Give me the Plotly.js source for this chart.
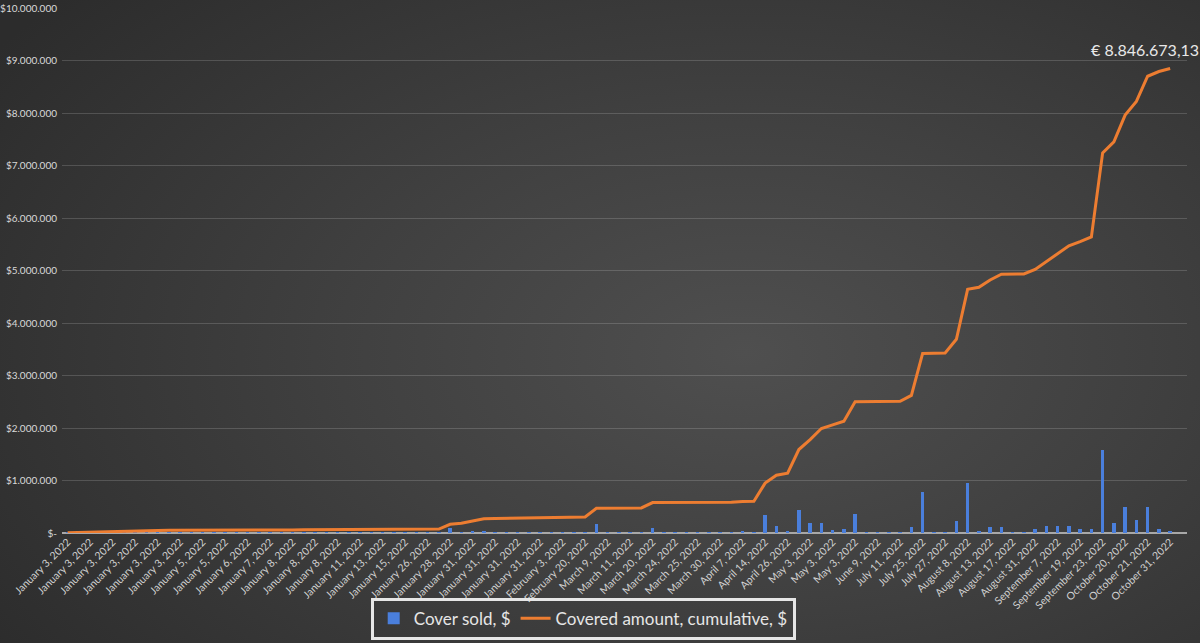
<!DOCTYPE html>
<html>
<head>
<meta charset="utf-8">
<script src="https://cdn.plot.ly/plotly-3.0.1.min.js"></script>
<style>
  html, body { margin: 0; padding: 0; width: 1200px; height: 643px; overflow: hidden; }
  body { background: radial-gradient(ellipse 75% 85% at 62% 55%, #4f4f4f 0%, #404040 45%, #2c2c2c 100%); }
  #chart { width: 1200px; height: 643px; }
</style>
</head>
<body>
<div id="chart"></div>
<script>
// Category dates (one per row of the source table)
const dates = [
  "January 3, 2022","January 3, 2022","January 3, 2022","January 3, 2022","January 3, 2022",
  "January 3, 2022","January 3, 2022","January 3, 2022","January 3, 2022","January 3, 2022",
  "January 3, 2022","January 4, 2022","January 5, 2022","January 5, 2022","January 5, 2022",
  "January 6, 2022","January 6, 2022","January 7, 2022","January 7, 2022","January 7, 2022",
  "January 8, 2022","January 8, 2022","January 8, 2022","January 8, 2022","January 8, 2022",
  "January 10, 2022","January 11, 2022","January 12, 2022","January 13, 2022","January 14, 2022",
  "January 15, 2022","January 20, 2022","January 26, 2022","January 27, 2022","January 28, 2022",
  "January 30, 2022","January 31, 2022","January 31, 2022","January 31, 2022","January 31, 2022",
  "January 31, 2022","January 31, 2022","January 31, 2022","February 1, 2022","February 3, 2022",
  "February 10, 2022","February 20, 2022","March 1, 2022","March 9, 2022","March 10, 2022",
  "March 11, 2022","March 15, 2022","March 20, 2022","March 22, 2022","March 24, 2022",
  "March 24, 2022","March 25, 2022","March 28, 2022","March 30, 2022","April 4, 2022",
  "April 7, 2022","April 11, 2022","April 14, 2022","April 20, 2022","April 26, 2022",
  "April 30, 2022","May 3, 2022","May 3, 2022","May 3, 2022","May 3, 2022",
  "May 3, 2022","May 20, 2022","June 9, 2022","June 28, 2022","July 11, 2022",
  "July 20, 2022","July 25, 2022","July 26, 2022","July 27, 2022","August 3, 2022",
  "August 8, 2022","August 10, 2022","August 13, 2022","August 15, 2022","August 17, 2022",
  "August 25, 2022","August 31, 2022","September 2, 2022","September 7, 2022","September 14, 2022",
  "September 19, 2022","September 21, 2022","September 23, 2022","October 5, 2022","October 20, 2022",
  "October 20, 2022","October 21, 2022","October 27, 2022","October 31, 2022"
];

// Cover sold, $ (per row)
const coverSold = [
  5000, 7000, 6000, 4000, 6000, 4000, 6000, 4000, 5000, 5000,
  2000, 1000, 500, 500, 500, 500, 500, 500, 500, 500,
  500, 500, 500, 3000, 2000, 1000, 1000, 1000, 1000, 1000,
  1000, 1000, 1000, 2000, 90000, 15000, 40000, 40000, 5000, 5000,
  5000, 2000, 5000, 5000, 3000, 2000, 2000, 170000, 2000, 2000,
  2000, 2000, 100000, 2000, 2000, 2000, 2000, 2000, 3000, 5000,
  20000, 3000, 340000, 140000, 30000, 440000, 190000, 190000, 60000, 80000,
  370000, 2000, 2000, 2000, 2000, 110000, 790000, 5000, 5000, 230000,
  950000, 40000, 110000, 110000, 2000, 2000, 80000, 140000, 140000, 140000,
  80000, 80000, 1590000, 200000, 490000, 240000, 490000, 80000, 40000
];

// Covered amount, cumulative, $ (per row)
const cumulative = [
  5000, 12000, 18000, 22000, 28000, 32000, 38000, 42000, 47000, 52000,
  54000, 55000, 55500, 56000, 56500, 57000, 57500, 58000, 58500, 59000,
  59500, 60000, 60500, 63500, 65500, 66500, 67500, 68500, 69500, 70500,
  71500, 72500, 73500, 75500, 166000, 185000, 230000, 270000, 275000, 280000,
  285000, 287000, 292000, 297000, 300000, 302000, 304000, 470000, 472000, 474000,
  476000, 478000, 580000, 580000, 580000, 580000, 580000, 580000, 583000, 588000,
  600000, 603000, 950000, 1100000, 1140000, 1590000, 1780000, 1990000, 2060000, 2130000,
  2500000, 2502000, 2504000, 2506000, 2508000, 2620000, 3420000, 3425000, 3430000, 3690000,
  4640000, 4680000, 4820000, 4930000, 4932000, 4934000, 5020000, 5170000, 5310000, 5470000,
  5550000, 5640000, 7240000, 7450000, 7960000, 8220000, 8700000, 8790000, 8846673.13
];

const yTickValues = [0, 1000000, 2000000, 3000000, 4000000, 5000000, 6000000, 7000000, 8000000, 9000000, 10000000];
const finalLabel = "€ 8.846.673,13";

function fmtDollar(v) {
  if (v === 0) return "$-";
  return "$" + String(Math.round(v)).replace(/\B(?=(\d{3})+(?!\d))/g, ".");
}

const idx = dates.map((d, i) => i);
const tickIdx = idx.filter(i => i % 2 === 0);
const tickTxt = tickIdx.map(i => dates[i]);

const traces = [
  {
    type: "bar",
    name: "Cover sold, $",
    x: idx,
    y: coverSold,
    customdata: dates,
    width: 0.32,
    marker: { color: "#4a7fdc", line: { width: 0 } },
    hovertemplate: "%{customdata}<br>%{y:$,.0f}<extra></extra>"
  },
  {
    type: "scatter",
    mode: "lines",
    name: "Covered amount, cumulative, $",
    x: idx,
    y: cumulative,
    customdata: dates,
    line: { color: "#ed7d31", width: 3 },
    hovertemplate: "%{customdata}<br>%{y:$,.2f}<extra></extra>"
  }
];

const last = cumulative.length - 1;

const layout = {
  width: 1200,
  height: 643,
  paper_bgcolor: "rgba(0,0,0,0)",
  plot_bgcolor: "rgba(0,0,0,0)",
  margin: { l: 62, r: 13, t: 8, b: 110 },
  font: { family: "Lato, 'Open Sans', sans-serif", color: "#d9d9d9" },
  showlegend: true,
  bargap: 0,
  xaxis: {
    type: "linear",
    range: [-0.5, 99.5],
    tickmode: "array",
    tickvals: tickIdx,
    ticktext: tickTxt,
    tickangle: -45,
    tickfont: { size: 10.5, color: "#d0d0d0" },
    showgrid: false,
    zeroline: false,
    showline: false,
    ticks: "",
    automargin: false,
    fixedrange: true
  },
  yaxis: {
    range: [0, 10000000],
    tickmode: "array",
    tickvals: yTickValues,
    ticktext: yTickValues.map(fmtDollar),
    tickfont: { size: 10, color: "#d9d9d9" },
    gridcolor: "rgba(255,255,255,0.16)",
    gridwidth: 1,
    zeroline: true,
    zerolinecolor: "#a8a8a8",
    zerolinewidth: 1.5,
    showline: false,
    ticks: "",
    ticklabelstandoff: 4,
    automargin: false,
    fixedrange: true
  },
  legend: {
    orientation: "h",
    xref: "container",
    yref: "container",
    x: 0.486,
    xanchor: "center",
    y: 0.005,
    yanchor: "bottom",
    bgcolor: "rgba(0,0,0,0)",
    bordercolor: "#e6e6e6",
    borderwidth: 3,
    font: { size: 17, color: "#e6e6e6" },
    itemwidth: 30,
    traceorder: "normal"
  },
  annotations: [
    {
      x: last,
      y: cumulative[last],
      xref: "x",
      yref: "y",
      text: finalLabel,
      showarrow: false,
      xshift: -25,
      yshift: 19,
      font: { size: 16, color: "#e8e8e8" }
    }
  ]
};

Plotly.newPlot("chart", traces, layout, { displayModeBar: false, staticPlot: false });
</script>
</body>
</html>
